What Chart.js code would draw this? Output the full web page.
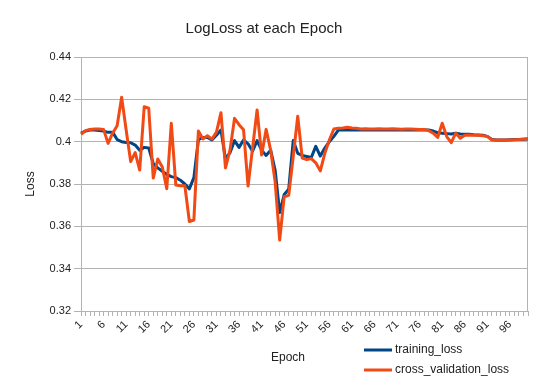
<!DOCTYPE html>
<html><head><meta charset="utf-8">
<script src="https://cdn.jsdelivr.net/npm/chart.js@4/dist/chart.umd.min.js"></script>
<style>html,body{margin:0;padding:0;background:#fff;}</style>
</head><body>
<canvas id="c" width="540" height="383"></canvas>
<script>
const chartTitle = 'LogLoss at each Epoch';
const xAxisTitle = 'Epoch';
const yAxisTitle = 'Loss';
const seriesNames = ['training_loss', 'cross_validation_loss'];
const epochs = [1,2,3,4,5,6,7,8,9,10,11,12,13,14,15,16,17,18,19,20,
  21,22,23,24,25,26,27,28,29,30,31,32,33,34,35,36,37,38,39,40,
  41,42,43,44,45,46,47,48,49,50,51,52,53,54,55,56,57,58,59,60,
  61,62,63,64,65,66,67,68,69,70,71,72,73,74,75,76,77,78,79,80,
  81,82,83,84,85,86,87,88,89,90,91,92,93,94,95,96,97,98,99,100];
const trainingLoss = [
  0.4040,0.4050,0.4055,0.4055,0.4053,0.4050,0.4044,0.4045,0.4010,0.4000,
  0.3996,0.3995,0.3984,0.3960,0.3973,0.3970,0.3896,0.3876,0.3860,0.3845,
  0.3835,0.3830,0.3818,0.3800,0.3777,0.3830,0.4010,0.4020,0.4020,0.4008,
  0.4030,0.4055,0.3918,0.3948,0.4005,0.3973,0.4008,0.3990,0.3955,0.4005,
  0.3960,0.3935,0.3960,0.3865,0.3665,0.3750,0.3775,0.4005,0.3945,0.3935,
  0.3930,0.3925,0.3978,0.3932,0.3970,0.4000,0.4025,0.4055,0.4055,0.4055,
  0.4055,0.4055,0.4055,0.4056,0.4055,0.4055,0.4056,0.4055,0.4055,0.4055,
  0.4056,0.4055,0.4055,0.4055,0.4055,0.4055,0.4055,0.4055,0.4050,0.4042,
  0.4040,0.4038,0.4036,0.4040,0.4036,0.4035,0.4035,0.4033,0.4032,0.4030,
  0.4025,0.4010,0.4008,0.4008,0.4008,0.4009,0.4010,0.4010,0.4012,0.4013];
const crossValidationLoss = [
  0.4035,0.4052,0.4058,0.4060,0.4060,0.4058,0.3992,0.4040,0.4075,0.4210,
  0.4055,0.3906,0.3948,0.3866,0.4165,0.4158,0.3828,0.3918,0.3880,0.3778,
  0.4087,0.3795,0.3792,0.3792,0.3623,0.3630,0.4050,0.4013,0.4028,0.4012,
  0.4045,0.4137,0.3876,0.3960,0.4110,0.4080,0.4056,0.3790,0.3970,0.4150,
  0.3937,0.4058,0.3960,0.3810,0.3535,0.3740,0.3746,0.3930,0.4120,0.3922,
  0.3915,0.3920,0.3900,0.3862,0.3945,0.4008,0.4060,0.4063,0.4065,0.4068,
  0.4065,0.4063,0.4060,0.4061,0.4060,0.4060,0.4061,0.4060,0.4060,0.4061,
  0.4060,0.4059,0.4060,0.4060,0.4059,0.4058,0.4058,0.4052,0.4040,0.4020,
  0.4087,0.4024,0.3995,0.4040,0.4016,0.4030,0.4032,0.4030,0.4030,0.4028,
  0.4025,0.4008,0.4008,0.4008,0.4008,0.4008,0.4009,0.4010,0.4012,0.4014];
const yTickLabels = ['0.32','0.34','0.36','0.38','0.4','0.42','0.44'];

const FONT = '"Liberation Sans", Arial, sans-serif';
const TEXT = '#222';
const GRID = '#b3b3b3';

const decor = {
  id: 'decor',
  beforeDatasetsDraw(chart) {
    const a = chart.chartArea, ctx = chart.ctx;
    ctx.save();
    ctx.strokeStyle = GRID; ctx.lineWidth = 1;
    ctx.beginPath();
    ctx.moveTo(Math.round(a.right) - 0.5, a.top);
    ctx.lineTo(Math.round(a.right) - 0.5, a.bottom);
    ctx.stroke();
    ctx.restore();
  },
  afterDraw(chart) {
    const ctx = chart.ctx;
    ctx.save();
    ctx.font = '12px ' + FONT;
    ctx.fillStyle = TEXT;
    ctx.textBaseline = 'middle';
    ctx.textAlign = 'center';
    ctx.fillText(xAxisTitle, 288, 358);
    chart.data.datasets.forEach((ds, i) => {
      const y = 350 + i * 20;
      ctx.strokeStyle = ds.borderColor;
      ctx.lineWidth = 3;
      ctx.beginPath(); ctx.moveTo(364, y); ctx.lineTo(392, y); ctx.stroke();
      ctx.textAlign = 'left';
      ctx.fillText(ds.label, 395, y);
    });
    ctx.restore();
  }
};

new Chart(document.getElementById('c'), {
  type: 'line',
  data: {
    labels: epochs,
    datasets: [
      { label: seriesNames[0], data: trainingLoss, borderColor: '#004586', backgroundColor: '#004586',
        borderWidth: 3, pointRadius: 0, tension: 0, borderJoinStyle: 'round', order: 2 },
      { label: seriesNames[1], data: crossValidationLoss, borderColor: '#f24a14', backgroundColor: '#f24a14',
        borderWidth: 3, pointRadius: 0, tension: 0, borderJoinStyle: 'round', order: 1 }
    ]
  },
  options: {
    responsive: false,
    animation: false,
    devicePixelRatio: 1,
    layout: { padding: { left: 0, right: 12, top: 0, bottom: 0 } },
    plugins: {
      legend: { display: false },
      tooltip: { enabled: false },
      title: { display: true, text: chartTitle, color: TEXT,
        font: { family: FONT, size: 15, weight: 'normal' },
        padding: { top: 20, bottom: 19 } }
    },
    scales: {
      x: {
        type: 'category',
        offset: false,
        grid: { drawOnChartArea: false, drawTicks: true, tickLength: 5, color: GRID },
        border: { display: true, color: GRID },
        ticks: {
          autoSkip: false, maxRotation: 45, minRotation: 45, padding: 2,
          color: TEXT, font: { family: FONT, size: 11 },
          callback: function(v, i) { return i % 5 === 0 ? String(epochs[i]) : ''; }
        },
        afterFit: (s) => { s.height = 72; }
      },
      y: {
        min: 0.32, max: 0.44,
        grid: { color: GRID, tickLength: 7, drawTicks: true },
        border: { display: true, color: GRID },
        ticks: { stepSize: 0.02, padding: 3, color: TEXT, font: { family: FONT, size: 11 },
          callback: function(v, i) { return yTickLabels[i]; } },
        title: { display: true, text: yAxisTitle, color: TEXT,
          font: { family: FONT, size: 12 }, padding: { top: 23, bottom: 0 } },
        afterFit: (s) => { s.width = 81; }
      }
    }
  },
  plugins: [decor]
});
</script>
</body></html>
